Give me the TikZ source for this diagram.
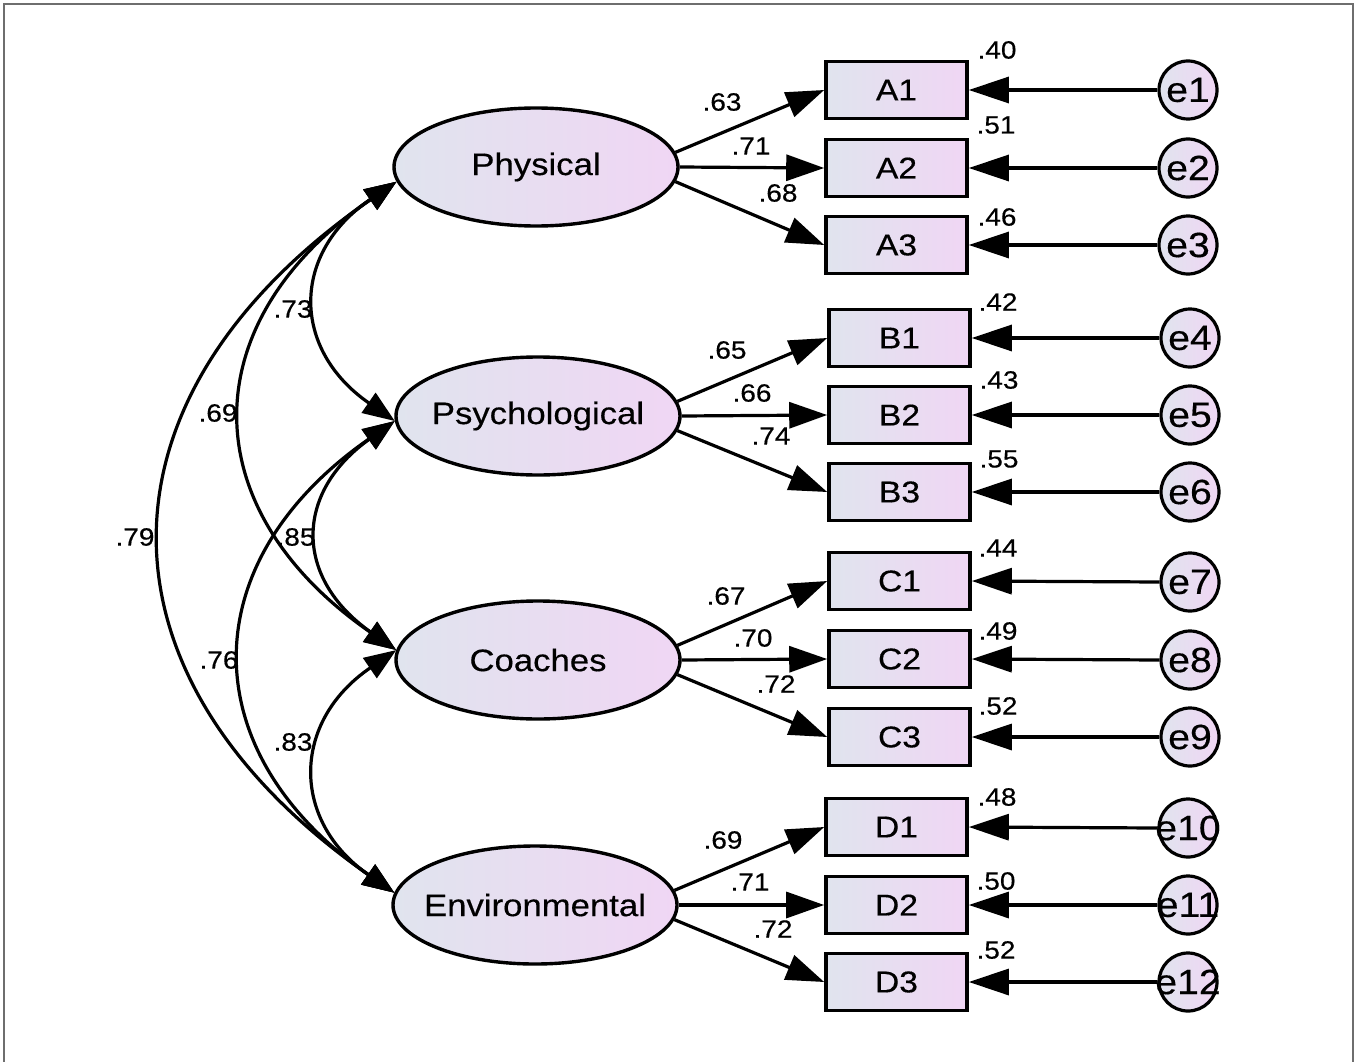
\documentclass[tikz,border=0pt]{standalone}
\usepackage{fontspec}
\setmainfont{Liberation Sans}[FakeStretch=1.12,FakeBold=0.4]
\usetikzlibrary{arrows.meta,shapes.geometric}
\definecolor{gl}{RGB}{224,228,238}
\definecolor{gr}{RGB}{240,214,244}
\definecolor{framec}{RGB}{110,110,110}
\begin{document}
\begin{tikzpicture}[x=1pt,y=-1pt,
  latent/.style={ellipse,draw,line width=3.4pt,minimum width=284pt,minimum height=118pt,inner sep=0pt,left color=gl,right color=gr},
  lattxt/.style={font=\fontsize{31}{36}\selectfont,inner sep=0pt},
  obs/.style={rectangle,draw,line width=3.6pt,minimum width=141pt,minimum height=57pt,inner sep=0pt,left color=gl,right color=gr,font=\fontsize{30}{36}\selectfont},
  err/.style={circle,draw,line width=3.2pt,minimum size=58pt,inner sep=0pt,left color=gl,right color=gr},
  errtxt/.style={font=\fontsize{35}{40}\selectfont,inner sep=0pt},
  coef/.style={font=\fontsize{25}{30}\selectfont,inner sep=0pt},
  load/.style={line width=3.2pt,-{Triangle[length=38pt,width=26pt]}},
  erra/.style={line width=3.2pt,-{Triangle[length=40pt,width=26pt]}},
  cov/.style={line width=3.2pt,{Triangle[length=32pt,width=24pt]}-{Triangle[length=32pt,width=24pt]}}
]
\useasboundingbox (0,0) rectangle (1359,1062);
\draw[framec,line width=2pt] (4,1062) -- (4,4) -- (1353,4) -- (1353,1062);

% latent variables
\node[latent,label={[lattxt]center:Physical}] (Phys) at (536,167) {};
\node[latent,label={[lattxt]center:Psychological}] (Psych) at (538,416) {};
\node[latent,label={[lattxt]center:Coaches}] (Coach) at (538,660) {};
\node[latent,label={[lattxt]center:Environmental}] (Env) at (535,905) {};

% observed variables
\node[obs] (A1) at (896.5,90) {A1};
\node[obs] (A2) at (896.5,168) {A2};
\node[obs] (A3) at (896.5,245) {A3};
\node[obs] (B1) at (899.5,338) {B1};
\node[obs] (B2) at (899.5,415) {B2};
\node[obs] (B3) at (899.5,492) {B3};
\node[obs] (C1) at (899.5,581) {C1};
\node[obs] (C2) at (899.5,659) {C2};
\node[obs] (C3) at (899.5,737) {C3};
\node[obs] (D1) at (896.5,827) {D1};
\node[obs] (D2) at (896.5,905) {D2};
\node[obs] (D3) at (896.5,982) {D3};

% error terms
\node[err,label={[errtxt]center:e1}] (e1) at (1188,90) {};
\node[err,label={[errtxt]center:e2}] (e2) at (1188,168) {};
\node[err,label={[errtxt]center:e3}] (e3) at (1188,245) {};
\node[err,label={[errtxt]center:e4}] (e4) at (1190,338) {};
\node[err,label={[errtxt]center:e5}] (e5) at (1190,415) {};
\node[err,label={[errtxt]center:e6}] (e6) at (1190,492) {};
\node[err,label={[errtxt]center:e7}] (e7) at (1190,582) {};
\node[err,label={[errtxt]center:e8}] (e8) at (1190,660) {};
\node[err,label={[errtxt]center:e9}] (e9) at (1190,737) {};
\node[err,label={[errtxt]center:e10}] (e10) at (1188,828) {};
\node[err,label={[errtxt]center:e11}] (e11) at (1188,905) {};
\node[err,label={[errtxt]center:e12}] (e12) at (1188,982) {};

% loadings
\draw[load] (Phys.6) -- (A1.west);
\draw[load] (Phys.east) -- (A2.west);
\draw[load] (Phys.-6) -- (A3.west);
\draw[load] (Psych.6) -- (B1.west);
\draw[load] (Psych.east) -- (B2.west);
\draw[load] (Psych.-6) -- (B3.west);
\draw[load] (Coach.6) -- (C1.west);
\draw[load] (Coach.east) -- (C2.west);
\draw[load] (Coach.-6) -- (C3.west);
\draw[load] (Env.6) -- (D1.west);
\draw[load] (Env.east) -- (D2.west);
\draw[load] (Env.-6) -- (D3.west);

% error paths
\foreach \e/\o in {e1/A1,e2/A2,e3/A3,e4/B1,e5/B2,e6/B3,e7/C1,e8/C2,e9/C3,e10/D1,e11/D2,e12/D3}
  \draw[erra] (\e.west) -- (\o.east);

% covariances
\coordinate (tP) at (Phys.186);
\coordinate (tS) at (Psych.182);
\coordinate (tC) at (Coach.176);
\coordinate (tE) at (Env.175);
\draw[cov] (tP) .. controls (291,253) and (291,349) .. (tS);
\draw[cov] (tP) .. controls (192,322) and (192,509) .. (tC);
\draw[cov] (tP) .. controls (85,397) and (85,677) .. (tE);
\draw[cov] (tS) .. controls (294,493) and (294,578) .. (tC);
\draw[cov] (tS) .. controls (192,562) and (192,752) .. (tE);
\draw[cov] (tC) .. controls (291,722) and (291,821) .. (tE);

% loading coefficients
\node[coef] (l1) at (722,102) {.63};
\node[coef] (l2) at (751,146) {.71};
\node[coef] (l3) at (778,193) {.68};
\node[coef] (l4) at (727,350) {.65};
\node[coef] (l5) at (752,393) {.66};
\node[coef] (l6) at (771,436) {.74};
\node[coef] (l7) at (726,596) {.67};
\node[coef] (l8) at (753,638) {.70};
\node[coef] (l9) at (776,684) {.72};
\node[coef] (l10) at (723,840) {.69};
\node[coef] (l11) at (750,882) {.71};
\node[coef] (l12) at (773,929) {.72};

% squared multiple correlations
\node[coef] (r1) at (997,50) {.40};
\node[coef] (r2) at (996,125) {.51};
\node[coef] (r3) at (997,217) {.46};
\node[coef] (r4) at (998,302) {.42};
\node[coef] (r5) at (999,380) {.43};
\node[coef] (r6) at (999,459) {.55};
\node[coef] (r7) at (998,548) {.44};
\node[coef] (r8) at (998,631) {.49};
\node[coef] (r9) at (998,706) {.52};
\node[coef] (r10) at (997,797) {.48};
\node[coef] (r11) at (996,881) {.50};
\node[coef] (r12) at (996,950) {.52};

% correlations
\node[coef] (c1) at (293,309) {.73};
\node[coef] (c2) at (218,413) {.69};
\node[coef] (c3) at (135,537) {.79};
\node[coef] (c4) at (296,537) {.85};
\node[coef] (c5) at (219,660) {.76};
\node[coef] (c6) at (293,742) {.83};
\end{tikzpicture}
\end{document}
